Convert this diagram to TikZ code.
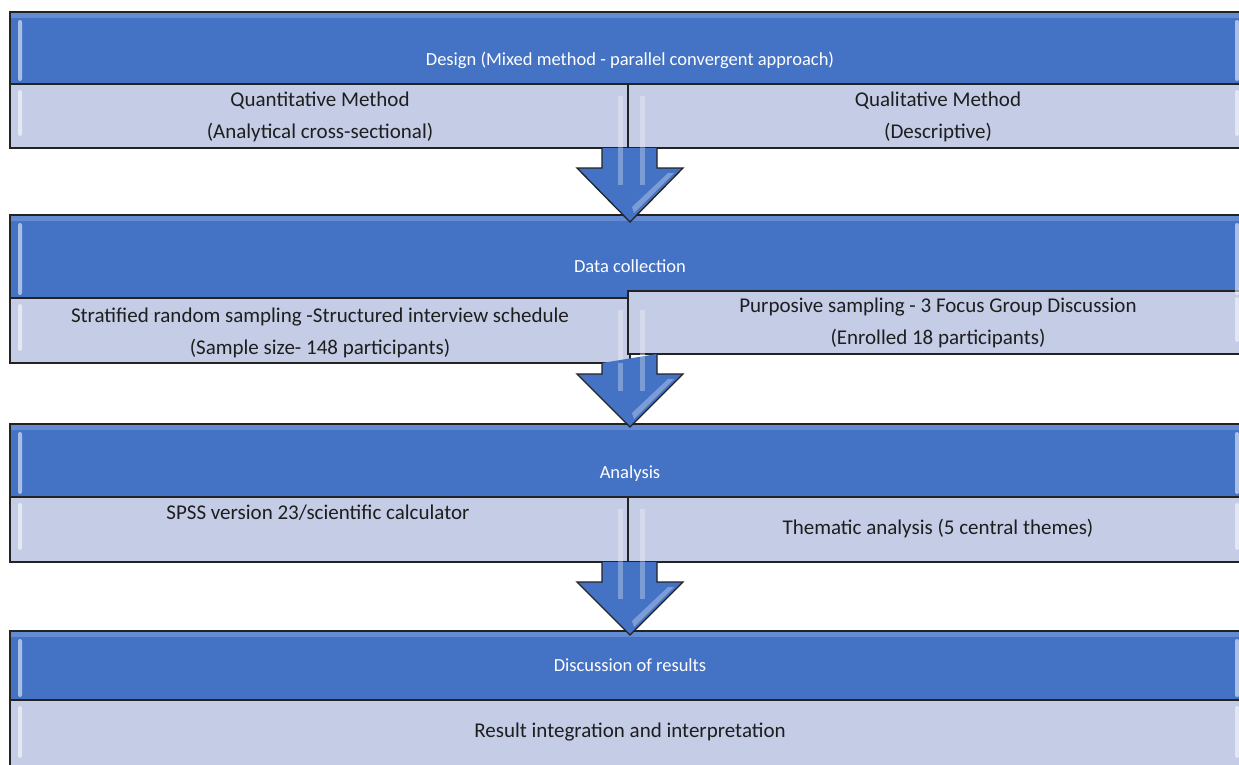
\documentclass[tikz,border=0pt]{standalone}
\usepackage{fontspec}
\setmainfont{Carlito}
\usetikzlibrary{calc}
\definecolor{hblue}{RGB}{68,114,196}
\definecolor{hbluelt}{RGB}{120,158,220}
\definecolor{cellc}{RGB}{196,204,230}
\definecolor{edgec}{RGB}{35,35,35}
\definecolor{txtc}{RGB}{30,30,30}
\tikzset{
  hdrbox/.style={draw=edgec, line width=1.3pt, fill=hblue, anchor=north west, inner sep=0pt, outer sep=0pt},
  cellbox/.style={draw=edgec, line width=1.3pt, fill=cellc, anchor=north west, inner sep=0pt, outer sep=0pt},
  htext/.style={text=white, font=\fontsize{18.5}{20}\selectfont, inner sep=0pt},
  ctext/.style={text=txtc, font=\fontsize{21}{32}\selectfont, align=center, inner sep=0pt},
  blockarrow/.style={draw=edgec, line width=1.3pt, fill=hblue, line join=miter},
  gloss/.style={fill=white, opacity=0.55, rounded corners=2pt},
  stripe/.style={fill=white, opacity=0.3},
}
\begin{document}
\begin{tikzpicture}[x=1pt,y=1pt]
\useasboundingbox (0,0) rectangle (1239,-765);
\clip (0,0) rectangle (1239,-765);
\fill[white] (0,0) rectangle (1239,-765);

% ---------- Block 1 ----------
\node[hdrbox, minimum width=1235pt, minimum height=72pt] (h1) at (10,-12) {};
\node[cellbox, minimum width=618pt, minimum height=64pt] (q1) at (10,-84) {};
\node[cellbox, minimum width=617pt, minimum height=64pt] (l1) at (628,-84) {};

% ---------- Block 2 ----------
\node[hdrbox, minimum width=1235pt, minimum height=83pt] (h2) at (10,-215) {};
\node[cellbox, minimum width=620pt, minimum height=65pt] (q2) at (10,-298) {};
\node[cellbox, minimum width=617pt, minimum height=63pt] (l2) at (628,-291) {};

% ---------- Block 3 ----------
\node[hdrbox, minimum width=1235pt, minimum height=73pt] (h3) at (10,-424) {};
\node[cellbox, minimum width=618pt, minimum height=65pt] (q3) at (10,-497) {};
\node[cellbox, minimum width=617pt, minimum height=65pt] (l3) at (628,-497) {};

% ---------- Block 4 ----------
\node[hdrbox, minimum width=1235pt, minimum height=69pt] (h4) at (10,-631) {};
\node[cellbox, minimum width=1235pt, minimum height=70pt] (r4) at (10,-700) {};

% glossy highlights
\foreach \n in {h1,h2,h3,h4}{
  \fill[hbluelt, opacity=0.6] ($(\n.north west)+(1,-1)$) rectangle ($(\n.north east)+(-1,-6)$);
  \fill[gloss] ($(\n.north west)+(8,-8)$) rectangle ($(\n.south west)+(12,3)$);
  \fill[gloss] ($(\n.north east)+(-10,-8)$) rectangle ($(\n.south east)+(-6,3)$);
}
\foreach \n in {q1,q2,q3,r4}{
  \fill[gloss] ($(\n.north west)+(8,-6)$) rectangle ($(\n.south west)+(12,12)$);
}
\foreach \n in {l1,l2,l3,r4}{
  \fill[gloss] ($(\n.north east)+(-10,-6)$) rectangle ($(\n.south east)+(-6,12)$);
}

% ---------- Arrows ----------
% arrow 1
\fill[stripe] let \p1=($(q1.north east)+(2,0)$) in (\x1-12,\y1-12) rectangle (\x1-7,\y1-64);
\fill[stripe] let \p1=($(q1.north east)+(2,0)$) in (\x1+10,\y1-12) rectangle (\x1+15,\y1-64);
\draw[blockarrow] let \p1=($(q1.south east)+(2,0)$), \p2=(h2.north) in
  (\x1-28,\y1) -- (\x1-28,\y2+47) -- (\x1-53,\y2+47) -- (\x1,\y2-7) -- (\x1+53,\y2+47) -- (\x1+27,\y2+47) -- (\x1+27,\y1);
\fill[stripe] let \p1=($(q1.south east)+(2,0)$), \p2=(h2.north) in (\x1-12,\y1) rectangle (\x1-7,\y2+30);
\fill[stripe] let \p1=($(q1.south east)+(2,0)$), \p2=(h2.north) in (\x1+10,\y1) rectangle (\x1+15,\y2+30);
\fill[stripe] let \p1=($(q1.south east)+(2,0)$), \p2=(h2.north) in (\x1+38,\y2+42) -- (\x1+44,\y2+42) -- (\x1+4,\y2+2) -- (\x1+2,\y2+8) -- cycle;

% arrow 2
\fill[stripe] let \p1=($(q2.north east)+(0,0)$) in (\x1-12,\y1-12) rectangle (\x1-7,\y1-65);
\fill[stripe] let \p1=($(q2.north east)+(0,0)$) in (\x1+10,\y1-12) rectangle (\x1+15,\y1-57);
\draw[blockarrow] let \p1=($(q2.south east)+(0,0)$), \p2=(h3.north), \p3=(l2.south) in
  (\x1-28,\y1) -- (\x1-28,\y2+50) -- (\x1-53,\y2+50) -- (\x1,\y2-3) -- (\x1+53,\y2+50) -- (\x1+27,\y2+50) -- (\x1+27,\y3);
\fill[stripe] let \p1=($(q2.south east)+(0,0)$), \p2=(h3.north) in (\x1-12,\y1) rectangle (\x1-7,\y2+33);
\fill[stripe] let \p1=($(q2.south east)+(0,0)$), \p2=(h3.north), \p3=(l2.south) in (\x1+10,\y3) rectangle (\x1+15,\y2+33);
\fill[stripe] let \p1=($(q2.south east)+(0,0)$), \p2=(h3.north) in (\x1+38,\y2+45) -- (\x1+44,\y2+45) -- (\x1+4,\y2+5) -- (\x1+2,\y2+11) -- cycle;

% arrow 3
\fill[stripe] let \p1=($(q3.north east)+(2,0)$) in (\x1-12,\y1-12) rectangle (\x1-7,\y1-65);
\fill[stripe] let \p1=($(q3.north east)+(2,0)$) in (\x1+10,\y1-12) rectangle (\x1+15,\y1-65);
\draw[blockarrow] let \p1=($(q3.south east)+(2,0)$), \p2=(h4.north) in
  (\x1-28,\y1) -- (\x1-28,\y2+49) -- (\x1-53,\y2+49) -- (\x1,\y2-4) -- (\x1+53,\y2+49) -- (\x1+27,\y2+49) -- (\x1+27,\y1);
\fill[stripe] let \p1=($(q3.south east)+(2,0)$), \p2=(h4.north) in (\x1-12,\y1) rectangle (\x1-7,\y2+32);
\fill[stripe] let \p1=($(q3.south east)+(2,0)$), \p2=(h4.north) in (\x1+10,\y1) rectangle (\x1+15,\y2+32);
\fill[stripe] let \p1=($(q3.south east)+(2,0)$), \p2=(h4.north) in (\x1+38,\y2+44) -- (\x1+44,\y2+44) -- (\x1+4,\y2+4) -- (\x1+2,\y2+10) -- cycle;

% ---------- Texts ----------
\node[htext] (t1) at (630,-60) {Design (Mixed method - parallel convergent approach)};
\node[ctext] (t1a) at (320,-117) {Quantitative Method\\(Analytical cross-sectional)};
\node[ctext] (t1b) at (938,-117) {Qualitative Method\\(Descriptive)};

\node[htext] (t2) at (630,-266) {Data collection};
\node[ctext] (t2a) at (320,-333) {Stratified random sampling -Structured interview schedule\\(Sample size- 148 participants)};
\node[ctext] (t2b) at (938,-323) {Purposive sampling - 3 Focus Group Discussion\\(Enrolled 18 participants)};

\node[htext] (t3) at (630,-474) {Analysis};
\node[ctext] (t3a) at (318,-513) {SPSS version 23/scientific calculator};
\node[ctext] (t3b) at (938,-529) {Thematic analysis (5 central themes)};

\node[htext] (t4) at (630,-665) {Discussion of results};
\node[ctext] (t4a) at (630,-732) {Result integration and interpretation};
\end{tikzpicture}
\end{document}
